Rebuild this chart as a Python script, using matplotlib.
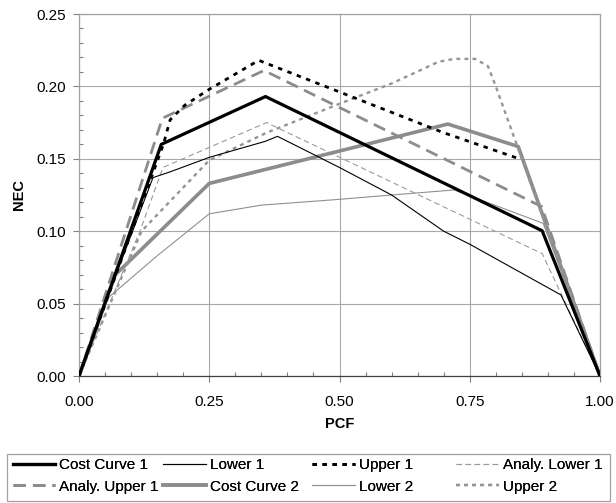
import matplotlib
matplotlib.use("Agg")
import matplotlib.pyplot as plt
from matplotlib.ticker import MultipleLocator, FormatStrFormatter
from matplotlib.patches import Rectangle

plt.rcParams['font.family'] = ['Liberation Sans', 'DejaVu Sans']
plt.rcParams['lines.scale_dashes'] = False

# ---- data ----
cc1_x = [0, 0.158, 0.358, 0.889, 1.0]
cc1_y = [0, 0.160, 0.193, 0.1003, 0]

low1_x = [0, 0.05, 0.142, 0.175, 0.25, 0.357, 0.381, 0.5, 0.6, 0.7, 0.75, 0.82, 0.925, 1.0]
low1_y = [0, 0.05, 0.137, 0.141, 0.151, 0.162, 0.1655, 0.144, 0.125, 0.100, 0.091, 0.077, 0.056, 0]

up1_x = [0, 0.162, 0.175, 0.203, 0.25, 0.345, 0.7, 0.845]
up1_y = [0, 0.160, 0.177, 0.187, 0.198, 0.218, 0.168, 0.150]

alow1_x = [0, 0.117, 0.161, 0.36, 0.889, 1.0]
alow1_y = [0, 0.100, 0.144, 0.175, 0.0845, 0]

aup1_x = [0, 0.16, 0.355, 0.888, 1.0]
aup1_y = [0, 0.178, 0.211, 0.117, 0]

cc2_x = [0, 0.07, 0.25, 0.708, 0.843, 1.0]
cc2_y = [0, 0.070, 0.133, 0.174, 0.1585, 0]

low2_x = [0, 0.056, 0.15, 0.25, 0.35, 0.5, 0.6, 0.72, 0.891, 1.0]
low2_y = [0, 0.054, 0.083, 0.112, 0.118, 0.122, 0.125, 0.1285, 0.1054, 0]

up2_x = [0, 0.12, 0.25, 0.36, 0.5, 0.6, 0.69, 0.72, 0.76, 0.785, 0.80, 0.84, 1.0]
up2_y = [0, 0.100, 0.149, 0.168, 0.188, 0.202, 0.217, 0.219, 0.219, 0.214, 0.200, 0.160, 0]

x_ticks = [0, 0.25, 0.5, 0.75, 1.0]
y_ticks = [0, 0.05, 0.10, 0.15, 0.20, 0.25]

GRAY = '#8c8c8c'
W, H = 616, 503

fig = plt.figure(figsize=(6.16, 5.03), dpi=100)
ax = fig.add_axes([79/W, (H-376)/H, 521/W, 362/H])

l_cc1, = ax.plot(cc1_x, cc1_y, color='black', lw=2.3, label='Cost Curve 1', zorder=5)
l_low1, = ax.plot(low1_x, low1_y, color='black', lw=0.8, label='Lower 1', zorder=5)
l_up1, = ax.plot(up1_x, up1_y, color='black', lw=2.0, ls=(0, (3.2, 4.0)), label='Upper 1', zorder=5)
l_alow1, = ax.plot(alow1_x, alow1_y, color='#9a9a9a', lw=0.8, ls=(0, (4, 2.5)), label='Analy. Lower 1', zorder=4)
l_aup1, = ax.plot(aup1_x, aup1_y, color=GRAY, lw=2.0, ls=(0, (9, 5)), label='Analy. Upper 1', zorder=4)
l_cc2, = ax.plot(cc2_x, cc2_y, color=GRAY, lw=2.6, label='Cost Curve 2', zorder=4)
l_low2, = ax.plot(low2_x, low2_y, color='#909090', lw=0.8, label='Lower 2', zorder=4)
l_up2, = ax.plot(up2_x, up2_y, color='#959595', lw=1.7, ls=(0, (2.8, 3.0)), label='Upper 2', zorder=4)

ax.set_xlim(0, 1)
ax.set_ylim(0, 0.25)
ax.set_xticks(x_ticks)
ax.set_yticks(y_ticks)
ax.xaxis.set_major_formatter(FormatStrFormatter('%.2f'))
ax.yaxis.set_major_formatter(FormatStrFormatter('%.2f'))
ax.xaxis.set_minor_locator(MultipleLocator(0.05))
ax.yaxis.set_minor_locator(MultipleLocator(0.01))
ax.tick_params(which='major', direction='out', length=4, width=0.8, color='#808080',
               labelsize=11, pad=5.5)
ax.tick_params(axis='x', which='major', pad=9.5)
ax.tick_params(which='minor', direction='in', length=3, width=0.8, color='#808080')
ax.grid(True, which='major', color='#a8a8a8', lw=0.8)
ax.set_axisbelow(True)
for s in ['top', 'right', 'left']:
    ax.spines[s].set_color('#a0a0a0')
    ax.spines[s].set_linewidth(0.9)
ax.spines['bottom'].set_color('#404040')
ax.spines['bottom'].set_linewidth(0.9)

ax.set_xlabel('PCF', fontsize=10.5, fontweight='bold', labelpad=6)
ax.set_ylabel('NEC', fontsize=10.5, fontweight='bold', labelpad=7)

# legend: frame + four columns placed like the reference
fig.patches.append(Rectangle((7/W, (H-501)/H), 603/W, 47/H, transform=fig.transFigure,
                             fill=False, edgecolor='#a0a0a0', lw=0.9))
columns = [([l_cc1, l_aup1], 12.5), ([l_low1, l_cc2], 163), ([l_up1, l_low2], 312), ([l_alow1, l_up2], 456)]
for hs, x0 in columns:
    lg = fig.legend(handles=hs, loc='upper left', bbox_to_anchor=(x0/W, (H-458)/H),
                    fontsize=11, frameon=False, handlelength=2.8, handletextpad=0.25,
                    borderpad=0, borderaxespad=0, labelspacing=0.5)
    fig.add_artist(lg)

fig.savefig('out.png', dpi=100)
